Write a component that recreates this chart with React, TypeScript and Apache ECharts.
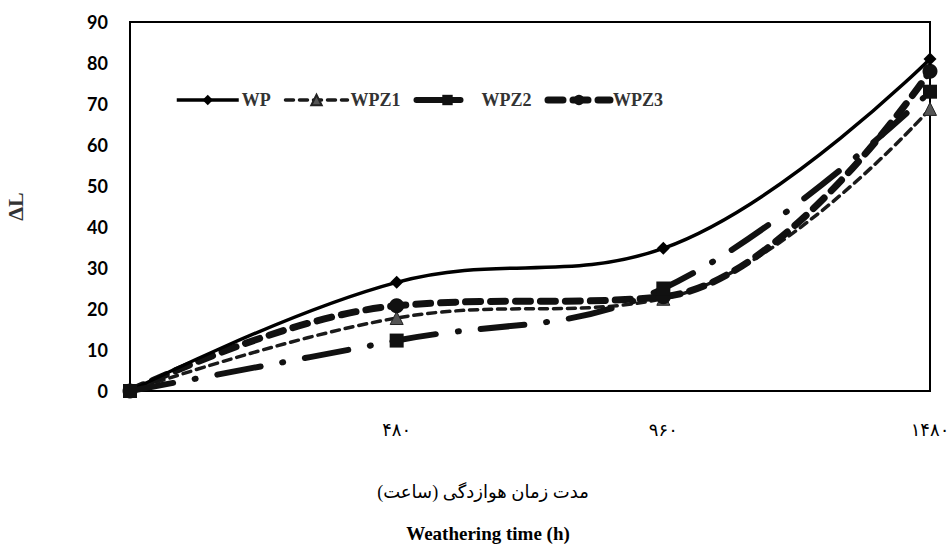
import React, { useEffect, useRef } from "react";
import * as echarts from "echarts";

const categories = ["0", "۴۸۰", "۹۶۰", "۱۴۸۰"];
const wp = [0, 26.5, 34.8, 81];
const wpz1 = [0, 17.8, 22.5, 68.8];
const wpz2 = [0, 12.3, 25, 73];
const wpz3 = [0, 20.8, 23, 78];
const yTicks = { min: 0, max: 90, interval: 10 };

export default function App() {
  const ref = useRef<HTMLDivElement>(null);
  useEffect(() => {
    document.body.style.margin = "0";
    const chart = echarts.init(ref.current!, null, { renderer: "svg" });
    const serif = "'Liberation Serif', 'Times New Roman', 'DejaVu Sans', serif";
    chart.setOption({
      animation: false,
      backgroundColor: "#fff",
      grid: {
        left: 130,
        right: 22,
        top: 22,
        bottom: 154,
        show: true,
        borderColor: "#000",
        borderWidth: 2,
        containLabel: false,
        outerBoundsMode: "none",
      },
      legend: {
        left: 170,
        top: 86,
        itemWidth: 62,
        itemHeight: 13,
        itemGap: 13,
        lineStyle: { width: "inherit" },
        textStyle: { fontFamily: serif, fontWeight: "bold", fontSize: 18, color: "#333", padding: [0, 0, 0, -2] },
        data: ["WP", "WPZ1", "WPZ2", "WPZ3"],
      },
      xAxis: {
        type: "category",
        data: categories,
        boundaryGap: false,
        axisLine: { lineStyle: { color: "#000", width: 2 } },
        axisTick: { show: false },
        axisLabel: {
          margin: 30,
          fontFamily: serif,
          fontSize: 18,
          color: "#000",
          formatter: (v: string, i: number) => (i === 0 ? "" : v),
        },
        splitLine: { show: false },
      },
      yAxis: {
        type: "value",
        min: yTicks.min,
        max: yTicks.max,
        interval: yTicks.interval,
        name: "ΔL",
        nameLocation: "middle",
        nameGap: 104,
        nameTextStyle: { fontFamily: serif, fontWeight: "bold", fontSize: 22, color: "#333" },
        axisLine: { show: true, lineStyle: { color: "#000", width: 2 } },
        axisTick: { show: false },
        splitLine: { show: false },
        axisLabel: {
          margin: 22,
          fontFamily: "Lato, 'Open Sans', sans-serif",
          fontWeight: "bold",
          fontSize: 18,
          color: "#000",
        },
      },
      series: [
        {
          name: "WP",
          type: "line",
          data: wp,
          smooth: 0.4,
          symbol: "diamond",
          symbolSize: 13,
          itemStyle: { color: "#000" },
          lineStyle: { color: "#000", width: 3.5 },
          z: 5,
        },
        {
          name: "WPZ1",
          type: "line",
          data: wpz1,
          smooth: 0.4,
          symbol: "triangle",
          symbolSize: 13,
          itemStyle: { color: "#555", borderColor: "#222", borderWidth: 1 },
          lineStyle: { color: "#1a1a1a", width: 3.5, type: [8, 6], cap: "round" },
          z: 3,
        },
        {
          name: "WPZ2",
          type: "line",
          data: wpz2,
          smooth: 0.4,
          symbol: "rect",
          symbolSize: 14,
          itemStyle: { color: "#111" },
          lineStyle: { color: "#111", width: 6, type: [44, 22, 1, 22], cap: "round" },
          z: 6,
        },
        {
          name: "WPZ3",
          type: "line",
          data: wpz3,
          smooth: 0.4,
          symbol: "circle",
          symbolSize: 15,
          itemStyle: { color: "#111" },
          lineStyle: { color: "#111", width: 7, type: [15, 10], cap: "round" },
          z: 4,
        },
      ],
      graphic: [
        {
          type: "text",
          x: 483,
          y: 492,
          style: {
            text: "مدت زمان هوازدگی (ساعت)",
            fontFamily: serif,
            fontSize: 18,
            fill: "#000",
            align: "center",
            verticalAlign: "middle",
          },
        },
        {
          type: "text",
          x: 488,
          y: 533,
          style: {
            text: "Weathering time (h)",
            fontFamily: serif,
            fontWeight: "bold",
            fontSize: 19,
            fill: "#000",
            align: "center",
            verticalAlign: "middle",
          },
        },
      ],
    });
    return () => chart.dispose();
  }, []);
  return <div ref={ref} style={{ width: 952, height: 545 }} />;
}
